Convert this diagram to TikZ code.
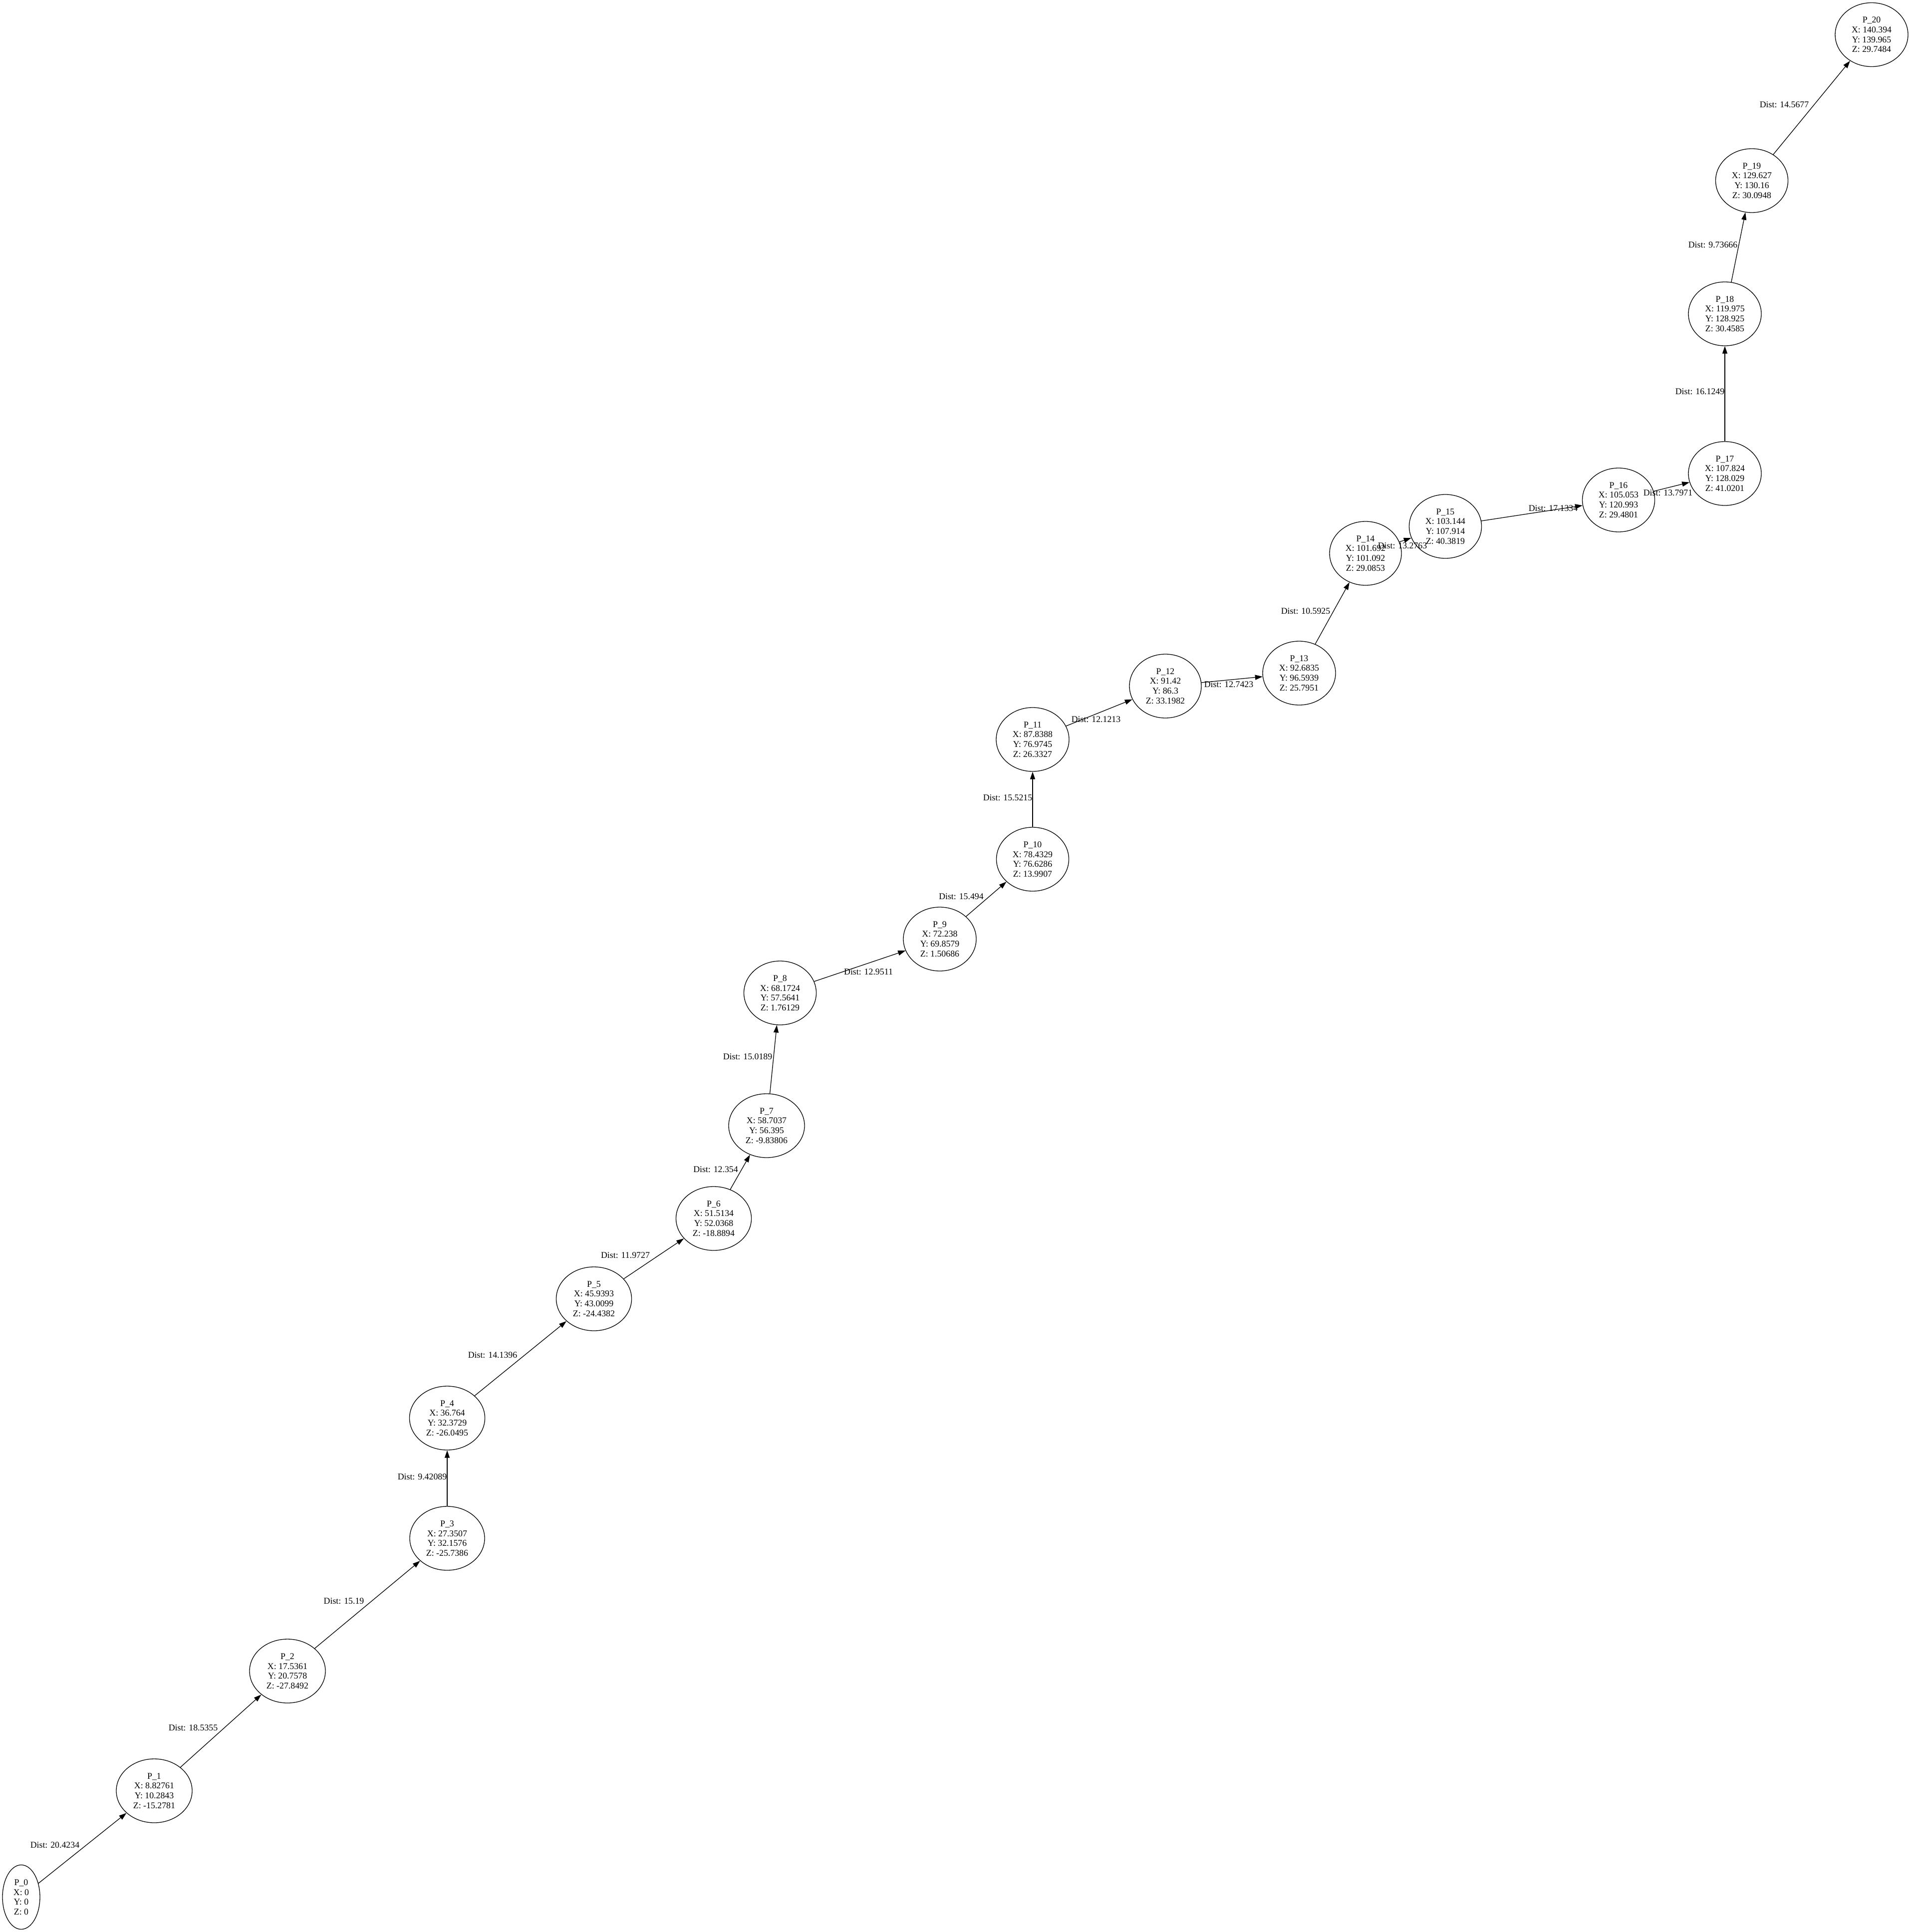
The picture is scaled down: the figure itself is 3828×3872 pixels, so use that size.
\documentclass[tikz,border=0pt]{standalone}
\usepackage{fontspec}
\setmainfont{Liberation Serif}
\usetikzlibrary{shapes.geometric,arrows.meta}
\begin{document}
\begin{tikzpicture}[x=1pt,y=-1pt,
  pnode/.style={ellipse,draw,line width=1.3pt,inner sep=0pt,minimum height=128pt,align=center,
    font=\fontsize{17.8pt}{19.6pt}\selectfont},
  dlabel/.style={inner sep=0pt,font=\fontsize{17.8pt}{19.6pt}\selectfont},
  conn/.style={line width=1.3pt,-{Triangle[length=15pt,width=10pt]}}]
\useasboundingbox (0,0) rectangle (3828,3872);
\fill[white] (0,0) rectangle (3828,3872);

\node[pnode,minimum width=75pt,minimum height=129pt] (p0) at (42.5,3802) {P\_0\\X: 0\\Y: 0\\Z: 0};
\node[pnode,minimum width=152pt] (p1) at (309,3589) {P\_1\\X: 8.82761\\Y: 10.2843\\Z: -15.2781};
\node[pnode,minimum width=152pt] (p2) at (576,3349) {P\_2\\X: 17.5361\\Y: 20.7578\\Z: -27.8492};
\node[pnode,minimum width=150pt] (p3) at (896,3083) {P\_3\\X: 27.3507\\Y: 32.1576\\Z: -25.7386};
\node[pnode,minimum width=151pt] (p4) at (896,2842) {P\_4\\X: 36.764\\Y: 32.3729\\Z: -26.0495};
\node[pnode,minimum width=151pt] (p5) at (1190,2603) {P\_5\\X: 45.9393\\Y: 43.0099\\Z: -24.4382};
\node[pnode,minimum width=151pt] (p6) at (1430,2442) {P\_6\\X: 51.5134\\Y: 52.0368\\Z: -18.8894};
\node[pnode,minimum width=152pt] (p7) at (1536,2256) {P\_7\\X: 58.7037\\Y: 56.395\\Z: -9.83806};
\node[pnode,minimum width=145pt] (p8) at (1563,1990) {P\_8\\X: 68.1724\\Y: 57.5641\\Z: 1.76129};
\node[pnode,minimum width=146pt] (p9) at (1883,1882) {P\_9\\X: 72.238\\Y: 69.8579\\Z: 1.50686};
\node[pnode,minimum width=145pt] (p10) at (2069,1722) {P\_10\\X: 78.4329\\Y: 76.6286\\Z: 13.9907};
\node[pnode,minimum width=146pt] (p11) at (2069,1482) {P\_11\\X: 87.8388\\Y: 76.9745\\Z: 26.3327};
\node[pnode,minimum width=144pt] (p12) at (2335,1375) {P\_12\\X: 91.42\\Y: 86.3\\Z: 33.1982};
\node[pnode,minimum width=146pt] (p13) at (2603,1349) {P\_13\\X: 92.6835\\Y: 96.5939\\Z: 25.7951};
\node[pnode,minimum width=144pt] (p14) at (2736,1109) {P\_14\\X: 101.692\\Y: 101.092\\Z: 29.0853};
\node[pnode,minimum width=145pt] (p15) at (2896,1055) {P\_15\\X: 103.144\\Y: 107.914\\Z: 40.3819};
\node[pnode,minimum width=145pt] (p16) at (3243,1002) {P\_16\\X: 105.053\\Y: 120.993\\Z: 29.4801};
\node[pnode,minimum width=146pt] (p17) at (3456,949) {P\_17\\X: 107.824\\Y: 128.029\\Z: 41.0201};
\node[pnode,minimum width=146pt] (p18) at (3456,629) {P\_18\\X: 119.975\\Y: 128.925\\Z: 30.4585};
\node[pnode,minimum width=145pt] (p19) at (3510,362) {P\_19\\X: 129.627\\Y: 130.16\\Z: 30.0948};
\node[pnode,minimum width=146pt] (p20) at (3750,69.5) {P\_20\\X: 140.394\\Y: 139.965\\Z: 29.7484};

\draw[conn] (p0) -- (p1);
\draw[conn] (p1) -- (p2);
\draw[conn] (p2) -- (p3);
\draw[conn] (p3) -- (p4);
\draw[conn] (p4) -- (p5);
\draw[conn] (p5) -- (p6);
\draw[conn] (p6) -- (p7);
\draw[conn] (p7) -- (p8);
\draw[conn] (p8) -- (p9);
\draw[conn] (p9) -- (p10);
\draw[conn] (p10) -- (p11);
\draw[conn] (p11) -- (p12);
\draw[conn] (p12) -- (p13);
\draw[conn] (p13) -- (p14);
\draw[conn] (p14) -- (p15);
\draw[conn] (p15) -- (p16);
\draw[conn] (p16) -- (p17);
\draw[conn] (p17) -- (p18);
\draw[conn] (p18) -- (p19);
\draw[conn] (p19) -- (p20);

\node[dlabel] (l1) at (110,3698) {Dist: 20.4234};
\node[dlabel] (l2) at (387,3463) {Dist: 18.5355};
\node[dlabel] (l3) at (689,3209) {Dist: 15.19};
\node[dlabel] (l4) at (846,2960) {Dist: 9.42089};
\node[dlabel] (l5) at (987,2716) {Dist: 14.1396};
\node[dlabel] (l6) at (1253,2516) {Dist: 11.9727};
\node[dlabel] (l7) at (1434,2344) {Dist: 12.354};
\node[dlabel] (l8) at (1498,2118) {Dist: 15.0189};
\node[dlabel] (l9) at (1740,1948) {Dist: 12.9511};
\node[dlabel] (l10) at (1926,1797) {Dist: 15.494};
\node[dlabel] (l11) at (2019,1599) {Dist: 15.5215};
\node[dlabel] (l12) at (2196,1442) {Dist: 12.1213};
\node[dlabel] (l13) at (2462,1372) {Dist: 12.7423};
\node[dlabel] (l14) at (2616,1225) {Dist: 10.5925};
\node[dlabel] (l15) at (2810,1094) {Dist: 13.2763};
\node[dlabel] (l16) at (3112,1019) {Dist: 17.1334};
\node[dlabel] (l17) at (3342,988) {Dist: 13.7971};
\node[dlabel] (l18) at (3406,785) {Dist: 16.1249};
\node[dlabel] (l19) at (3432,491) {Dist: 9.73666};
\node[dlabel] (l20) at (3575,210) {Dist: 14.5677};
\end{tikzpicture}
\end{document}
